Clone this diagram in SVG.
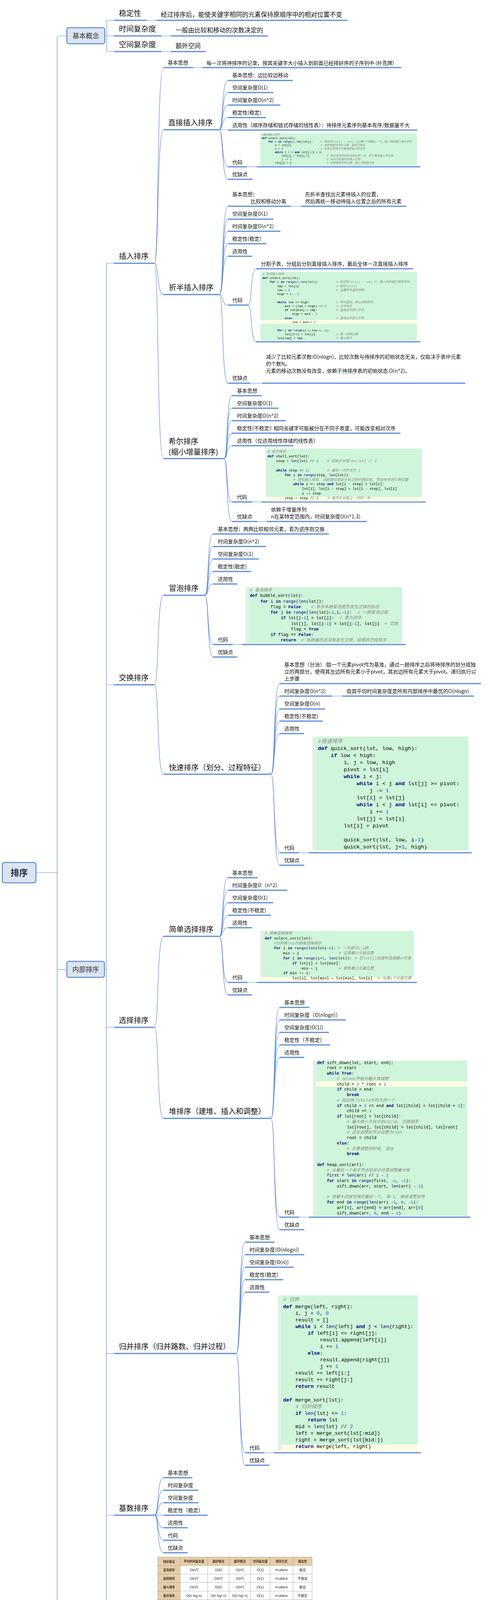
<svg xmlns="http://www.w3.org/2000/svg" width="1248" height="4541" viewBox="0 0 1248 4541">
<style>
.ul{fill:none;stroke:#5b8bd6;stroke-width:3}
.ln{fill:none;stroke:#5b8bd6;stroke-width:1.2}
.box{fill:#dbe5f1;stroke:#5b8bd6;stroke-width:2.5}
.bt{font-family:"Noto Sans CJK SC","Liberation Sans",sans-serif;font-size:17px;fill:#333;text-anchor:middle}
.rt{font-family:"Noto Sans CJK SC","Liberation Sans",sans-serif;font-size:22px;font-weight:bold;fill:#1f2d3d;text-anchor:middle}
.l1{font-family:"Noto Sans CJK SC","Liberation Sans",sans-serif;font-size:19px;fill:#111}
.vl{font-family:"Noto Sans CJK SC","Liberation Sans",sans-serif;font-size:16px;fill:#111}
.lf{font-family:"Noto Sans CJK SC","Liberation Sans",sans-serif;font-size:13px;fill:#111}
.code{font-family:"Liberation Mono","Noto Sans CJK SC",monospace;fill:#000}
.k{fill:#000080;font-weight:bold}
.b{fill:#000080}
.n{fill:#1750eb}
.c{fill:#8c8c8c;font-style:italic}
.cb{fill:#cff5da}
.hl{fill:#fcfbe3}
.gt{fill:#e4efe6}
.tg{stroke:#9a9a9a;stroke-width:0.7;fill:none}
.th{font-family:"Noto Sans CJK SC",sans-serif;font-size:7.5px;font-weight:bold;fill:#3a2e22;text-anchor:middle}
.tc{font-family:"Liberation Sans",sans-serif;font-size:9px;fill:#222;text-anchor:middle}
.tz{font-family:"Noto Sans CJK SC",sans-serif;font-size:8.5px;fill:#222;text-anchor:middle}
.nt{font-family:"Noto Sans CJK SC","Liberation Sans",sans-serif;font-size:6px;fill:#333}
</style>

<g id="connectors">
<path class="ln" d="M92 2234H146"/>
<path class="ln" d="M171 92H152Q146 92 146 98V4422Q146 4428 152 4428H171"/>
<path class="ln" d="M146 2482H171"/>
<path class="ln" d="M268 92H292M292 52H273V132H292"/>
<path class="ln" d="M267 2482H272M291.5 674H272V4291H291.5M272 1753H291.5M272 2630H291.5M272 3465H291.5M272 3879H291.5"/>
<path class="ln" d="M268 4428H291.5"/>
<path class="ln" d="M395 674C406.5 674 401 173 418 173M395 674C406.5 674 401 332 418 332M395 674C406.5 674 401 754 418 754M395 674C406.5 674 401 1174 418 1174"/>
<path class="ln" d="M395 1753C406.5 1753 401 1524 418 1524M395 1753C406.5 1753 401 1982 418 1982"/>
<path class="ln" d="M395 2630C406.5 2630 401 2397 418 2397M395 2630C406.5 2630 401 2863 418 2863"/>
<path class="ln" d="M395 3879C406.5 3879 401 3783 418 3783M395 3879C406.5 3879 401 3815 418 3815M395 3879C406.5 3879 401 3847 418 3847M395 3879H418M395 3879C406.5 3879 401 3911 418 3911M395 3879C406.5 3879 401 3943 418 3943M395 3879C406.5 3879 401 3975 418 3975"/>
<path class="ln" d="M604 3465C615.5 3465 610 3180 627 3180M604 3465C615.5 3465 610 3212 627 3212M604 3465C615.5 3465 610 3244 627 3244M604 3465C615.5 3465 610 3276 627 3276M604 3465C615.5 3465 610 3308 627 3308M604 3465C615.5 3465 610 3719 627 3719M604 3465C615.5 3465 610 3751 627 3751"/>
<path class="ln" d="M432 4428C444 4428 438 4333 456 4333M432 4428C444 4428 438 4364 456 4364M432 4428C444 4428 438 4396 456 4396M432 4428H456M432 4428C444 4428 438 4460 456 4460M432 4428C444 4428 438 4492 456 4492M432 4428C444 4428 438 4524 456 4524"/>
<path class="ln" d="M560 332C571.5 332 566 206 583 206M560 332C571.5 332 566 237 583 237M560 332C571.5 332 566 269 583 269M560 332C571.5 332 566 301 583 301M560 332H583M560 332C571.5 332 566 427 583 427M560 332C571.5 332 566 459 583 459"/>
<path class="ln" d="M561 754C572 754 566.5 528 583 528M561 754C572 754 566.5 561 583 561M561 754C572 754 566.5 592 583 592M561 754C572 754 566.5 624 583 624M561 754C572 754 566.5 656 583 656M561 754C572 754 566.5 781 583 781M561 754C572 754 566.5 981 583 981"/>
<path class="ln" d="M635 781C645 781 640 688 655 688M635 781C645 781 640 875 655 875"/>
<path class="ln" d="M573 1174C583 1174 578 1013 593 1013M573 1174C583 1174 578 1045 593 1045M573 1174C583 1174 578 1077 593 1077M573 1174C583 1174 578 1109 593 1109M573 1174C583 1174 578 1141 593 1141M573 1174C583 1174 578 1285 593 1285M573 1174C583 1174 578 1335 593 1335"/>
<path class="ln" d="M524 1524C534.5 1524 529 1367 545 1367M524 1524C534.5 1524 529 1399 545 1399M524 1524C534.5 1524 529 1431 545 1431M524 1524C534.5 1524 529 1463 545 1463M524 1524C534.5 1524 529 1495 545 1495M524 1524C534.5 1524 529 1650 545 1650M524 1524C534.5 1524 529 1682 545 1682"/>
<path class="ln" d="M693 1982C704 1982 698.5 1750 715 1750M693 1982C704 1982 698.5 1782 715 1782M693 1982C704 1982 698.5 1815 715 1815M693 1982C704 1982 698.5 1846 715 1846M693 1982C704 1982 698.5 1878 715 1878M693 1982C704 1982 698.5 2183 715 2183M693 1982C704 1982 698.5 2215 715 2215"/>
<path class="ln" d="M561 2397C572 2397 566.5 2247 583 2247M561 2397C572 2397 566.5 2279 583 2279M561 2397C572 2397 566.5 2311 583 2311M561 2397C572 2397 566.5 2343 583 2343M561 2397C572 2397 566.5 2375 583 2375M561 2397C572 2397 566.5 2515 583 2515M561 2397C572 2397 566.5 2547 583 2547"/>
<path class="ln" d="M693 2863C704 2863 698.5 2579 715 2579M693 2863C704 2863 698.5 2611 715 2611M693 2863C704 2863 698.5 2643 715 2643M693 2863C704 2863 698.5 2675 715 2675M693 2863C704 2863 698.5 2707 715 2707M693 2863C704 2863 698.5 3116 715 3116M693 2863C704 2863 698.5 3148 715 3148"/>
<path class="ln" d="M375 52H400M413 92H437M413 132H437M494 173H518M631 427H657M744 528H770M640 981H670M645 1285H669M658 1335H683M595 1650H619M849 1782H876M765 2183H790M632 2515H657M765 3116H790M676 3719H700M366 4291H391"/>
</g>

<g id="root"><rect class="box" x="6" y="2208" width="86" height="52" rx="6"/><text class="rt" x="49" y="2242">排序</text></g>

<g id="basic"><rect class="box" x="171" y="71" width="97" height="41" rx="5"/><text class="bt" x="219.5" y="98">基本概念</text></g>
<g id="basic-stable"><text class="l1" x="304" y="41">稳定性</text><path class="ul" d="M292 52H375"/></g>
<g id="basic-stable-v"><text class="vl" x="411" y="43">经过排序后，能使关键字相同的元素保持原顺序中的相对位置不变</text><path class="ul" d="M400 52H889"/></g>
<g id="basic-time"><text class="l1" x="304" y="81">时间复杂度</text><path class="ul" d="M292 92H413"/></g>
<g id="basic-time-v"><text class="vl" x="449" y="83">一般由比较和移动的次数决定的</text><path class="ul" d="M437 92H686"/></g>
<g id="basic-space"><text class="l1" x="304" y="121">空间复杂度</text><path class="ul" d="M292 132H413"/></g>
<g id="basic-space-v"><text class="vl" x="449" y="123">额外空间</text><path class="ul" d="M437 132H526"/></g>

<g id="internal"><rect class="box" x="171" y="2461" width="96" height="41" rx="5"/><text class="bt" x="219" y="2488">内部排序</text></g>
<g id="external"><rect class="box" x="171" y="4407" width="97" height="41" rx="5"/><text class="bt" x="219.5" y="4434">外部排序</text></g>

<g id="insert"><text class="l1" x="304" y="663">插入排序</text><path class="ul" d="M291.5 674H395"/></g>
<g id="insert-idea"><text class="lf" x="429" y="165">基本思想</text><path class="ul" d="M418 173H494"/></g>
<g id="insert-idea-v"><text class="lf" x="528" y="166">每一次将待排序的记录，按其关键字大小插入到前面已经排好序的子序列中  (扑克牌)</text><path class="ul" d="M518 173H1026"/></g>

<g id="direct"><text class="l1" x="430" y="321">直接插入排序</text><path class="ul" d="M418 332H560"/></g>
<g id="direct-1"><text class="lf" x="594" y="197">基本思想：边比较边移动</text><path class="ul" d="M583 206H749"/></g>
<g id="direct-2"><text class="lf" x="594" y="229">空间复杂度O(1)</text><path class="ul" d="M583 237H699"/></g>
<g id="direct-3"><text class="lf" x="594" y="261">时间复杂度O(n^2)</text><path class="ul" d="M583 269H717"/></g>
<g id="direct-4"><text class="lf" x="594" y="293">稳定性(稳定)</text><path class="ul" d="M583 301H680"/></g>
<g id="direct-5"><text class="lf" x="594" y="325">适用性（顺序存储和链式存储的线性表）：待排序元素序列基本有序/数据量不大</text><path class="ul" d="M583 333H1067"/></g>
<g id="direct-6"><text class="lf" x="594" y="420">代码</text><path class="ul" d="M583 427H631"/></g>
<g id="direct-7"><text class="lf" x="594" y="451">优缺点</text><path class="ul" d="M583 459H646"/></g>
<g id="direct-code"><path class="ul" d="M657 427H1075"/>
<svg x="666" y="341" width="400" height="83" viewBox="666 341 400 83">
<rect class="cb" x="666" y="341" width="400" height="83"/>
<g class="code" font-size="7">
<text x="669" y="346.7"><tspan class="c">#直接插入排序</tspan></text>
<text x="669" y="355.8"><tspan class="k">def</tspan> insert_sort(lst):</text>
<text x="686" y="364.9"><tspan class="k">for</tspan> i <tspan class="k">in</tspan> <tspan class="b">range</tspan>(<tspan class="n">1</tspan>,<tspan class="b">len</tspan>(lst)):<tspan class="c" x="820"># 依次将lst[1] ~ lst[-1](第2个到最后一个),插入到前面已排序序列</tspan></text>
<text x="703" y="373.9">s = lst[i]<tspan class="c" x="820"># 当前需要排序的元素，复制为哨兵</tspan></text>
<text x="703" y="383">j = i<tspan class="c" x="820"># 用来记录排序元素需要插入的位置</tspan></text>
<text x="703" y="392.1"><tspan class="k">while</tspan> j &gt; <tspan class="n">0</tspan> <tspan class="k">and</tspan> lst[j-<tspan class="n">1</tspan>] &gt; s:</text>
<text x="720" y="401.2">lst[j] = lst[j-<tspan class="n">1</tspan>]<tspan class="c" x="836"># 把已经排序好的元素后移一位，留下需要插入的位置</tspan></text>
<text x="720" y="410.2">j -= <tspan class="n">1</tspan><tspan class="c" x="836"># 从后往前查找待插入位置</tspan></text>
<text x="703" y="419.3">lst[j] = s<tspan class="c" x="836"># 把需要排序的元素，插入到指定位置</tspan></text>
</g></svg></g>

<g id="binary"><text class="l1" x="432" y="743">折半插入排序</text><path class="ul" d="M418 754H561"/></g>
<g id="binary-1"><text class="lf" x="594" y="502">基本思想：</text><text class="lf" x="641" y="520">比较和移动分离</text><path class="ul" d="M583 528H744"/></g>
<g id="binary-1v"><text class="lf" x="780" y="502">先折半查找出元素待插入的位置，</text><text class="lf" x="780" y="520">然后再统一移动待插入位置之后的所有元素</text><path class="ul" d="M770 528H1039"/></g>
<g id="binary-2"><text class="lf" x="594" y="552">空间复杂度O(1)</text><path class="ul" d="M583 561H699"/></g>
<g id="binary-3"><text class="lf" x="594" y="584">时间复杂度O(n^2)</text><path class="ul" d="M583 592H717"/></g>
<g id="binary-4"><text class="lf" x="594" y="616">稳定性(稳定)</text><path class="ul" d="M583 624H681"/></g>
<g id="binary-5"><text class="lf" x="594" y="648">适用性</text><path class="ul" d="M583 656H645"/></g>
<g id="binary-6"><text class="lf" x="594" y="773">代码</text><path class="ul" d="M583 781H635"/></g>
<g id="binary-6a"><text class="lf" x="667" y="680">分割子表，分组后分别直接插入排序，最后全体一次直接插入排序</text><path class="ul" d="M655 688H1056"/></g>
<g id="binary-code"><path class="ul" d="M655 875H1075"/>
<svg x="666" y="696" width="400" height="176" viewBox="666 696 400 176">
<rect class="cb" x="666" y="696" width="400" height="176"/>
<rect class="hl" x="666" y="819" width="400" height="10.3"/>
<g class="code" font-size="7.7">
<text x="671" y="703.7"><tspan class="c"># 折半插入排序</tspan></text>
<text x="671" y="714"><tspan class="k">def</tspan> insert_sort(lst):</text>
<text x="690" y="724.2"><tspan class="k">for</tspan> i <tspan class="k">in</tspan> <tspan class="b">range</tspan>(<tspan class="n">1</tspan>,<tspan class="b">len</tspan>(lst)):<tspan class="c" x="860"># 依次将lst[1] ~ lst[-1] 插入到前面已排序序列</tspan></text>
<text x="709" y="734.5">tmp = lst[i]<tspan class="c" x="860"># 暂存lst[i]</tspan></text>
<text x="709" y="744.8">low = <tspan class="n">0</tspan><tspan class="c" x="860"># 设置折半查找范围</tspan></text>
<text x="709" y="755">high = i - <tspan class="n">1</tspan></text>
<text x="709" y="775.6"><tspan class="k">while</tspan> low &lt;= high:<tspan class="c" x="860"># 折半查找，默认递增序列</tspan></text>
<text x="728" y="785.9">mid = (low + high) // <tspan class="n">2</tspan><tspan class="c" x="860"># 去中间点</tspan></text>
<text x="728" y="796.1"><tspan class="k">if</tspan> lst[mid] &gt; tmp:<tspan class="c" x="860"># 查找左半部分子表</tspan></text>
<text x="747" y="806.4">high = mid - <tspan class="n">1</tspan></text>
<text x="728" y="816.7"><tspan class="k">else</tspan>:<tspan class="c" x="860"># 查找右半部分子表</tspan></text>
<text x="747" y="826.9">low = mid + <tspan class="n">1</tspan></text>
<text x="709" y="847.5"><tspan class="k">for</tspan> j <tspan class="k">in</tspan> <tspan class="b">range</tspan>(i-<tspan class="n">1</tspan>,low-<tspan class="n">1</tspan>,-<tspan class="n">1</tspan>):</text>
<text x="728" y="857.7">lst[j+<tspan class="n">1</tspan>] = lst[j]<tspan class="c" x="860"># 统一后移元素</tspan></text>
<text x="709" y="868">lst[low] = tmp<tspan class="c" x="860"># 插入操作</tspan></text>
</g></svg></g>
<g id="binary-7"><text class="lf" x="594" y="972">优缺点</text><path class="ul" d="M583 981H640"/></g>
<g id="binary-7v"><text class="lf" x="680" y="918">减少了比较元素次数:O(nlogn)，比较次数与待排序的初始状态无关，仅取决于表中元素</text><text class="lf" x="680" y="936">的个数N。</text><text class="lf" x="680" y="954">元素的移动次数没有改变，依赖于待排序表的初始状态 O(n^2)。</text><path class="ul" d="M670 981H1190"/></g>

<g id="shell"><text class="l1" x="431" y="1137">希尔排序</text><text class="l1" x="431" y="1164">(缩小增量排序)</text><path class="ul" d="M418 1174H573"/></g>
<g id="shell-1"><text class="lf" x="606" y="1005">基本思想</text><path class="ul" d="M593 1013H670"/></g>
<g id="shell-2"><text class="lf" x="606" y="1037">空间复杂度O(1)</text><path class="ul" d="M593 1045H712"/></g>
<g id="shell-3"><text class="lf" x="606" y="1069">时间复杂度O(n^2)</text><path class="ul" d="M593 1077H731"/></g>
<g id="shell-4"><text class="lf" x="606" y="1101">稳定性(不稳定): 相同关键字可能被分在不同子表里，可能改变相对次序</text><path class="ul" d="M593 1109H1024"/></g>
<g id="shell-5"><text class="lf" x="606" y="1133">适用性（仅适用线性存储的线性表）</text><path class="ul" d="M593 1141H751"/></g>
<g id="shell-6"><text class="lf" x="606" y="1277">代码</text><path class="ul" d="M593 1285H645"/></g>
<g id="shell-code"><path class="ul" d="M669 1285H1088"/>
<svg x="680" y="1149" width="399" height="135" viewBox="680 1149 399 135">
<rect class="cb" x="680" y="1149" width="399" height="135"/>
<rect class="hl" x="680" y="1272" width="399" height="11.9"/>
<g class="code" font-size="9">
<text x="684" y="1159.1"><tspan class="c"># 希尔排序</tspan></text>
<text x="684" y="1171"><tspan class="k">def</tspan> shell_sort(lst):</text>
<text x="706" y="1182.9">step = <tspan class="b">len</tspan>(lst) // <tspan class="n">2</tspan><tspan class="c" x="837"># 初始步长取len(lst) // 2</tspan></text>
<text x="706" y="1206.7"><tspan class="k">while</tspan> step &gt;= <tspan class="n">1</tspan>:<tspan class="c" x="837"># 最后一次步长为 1</tspan></text>
<text x="728" y="1218.6"><tspan class="k">for</tspan> i <tspan class="k">in</tspan> <tspan class="b">range</tspan>(step, <tspan class="b">len</tspan>(lst)):</text>
<text x="750" y="1230.5"><tspan class="c"># 类似插入排序, 当前值与指定步长之前的值比较, 符合条件则交换位置</tspan></text>
<text x="750" y="1242.4"><tspan class="k">while</tspan> i &gt;= step <tspan class="k">and</tspan> lst[i - step] &gt; lst[i]:</text>
<text x="772" y="1254.3">lst[i], lst[i - step] = lst[i - step], lst[i]</text>
<text x="772" y="1266.2">i -= step</text>
<text x="728" y="1278.1">step = step // <tspan class="n">2</tspan><tspan class="c" x="837"># 每次步长取上一次的一半</tspan></text>
</g></svg></g>
<g id="shell-7"><text class="lf" x="606" y="1327">优缺点</text><path class="ul" d="M593 1335H658"/></g>
<g id="shell-7v"><text class="lf" x="693" y="1309">依赖于增量序列</text><text class="lf" x="693" y="1327">n在某特定范围内，时间复杂度O(n^1.3)</text><path class="ul" d="M683 1335H938"/></g>

<g id="swap"><text class="l1" x="304" y="1742">交换排序</text><path class="ul" d="M291.5 1753H395"/></g>
<g id="bubble"><text class="l1" x="432" y="1513">冒泡排序</text><path class="ul" d="M418 1524H524"/></g>
<g id="bubble-1"><text class="lf" x="557" y="1359">基本思想：两两比较相邻元素，若为逆序则交换</text><path class="ul" d="M545 1367H841"/></g>
<g id="bubble-2"><text class="lf" x="557" y="1391">时间复杂度O(n^2)</text><path class="ul" d="M545 1399H680"/></g>
<g id="bubble-3"><text class="lf" x="557" y="1423">空间复杂度O(1)</text><path class="ul" d="M545 1431H662"/></g>
<g id="bubble-4"><text class="lf" x="557" y="1455">稳定性(稳定)</text><path class="ul" d="M545 1463H642"/></g>
<g id="bubble-5"><text class="lf" x="557" y="1487">适用性</text><path class="ul" d="M545 1495H607"/></g>
<g id="bubble-6"><text class="lf" x="557" y="1642">代码</text><path class="ul" d="M545 1650H595"/></g>
<g id="bubble-code"><path class="ul" d="M619 1650H1038"/>
<svg x="628" y="1503" width="400" height="144" viewBox="628 1503 400 144">
<rect class="cb" x="628" y="1503" width="400" height="144"/>
<rect class="gt" x="628" y="1503" width="8" height="144"/>
<g class="code" font-size="10.8">
<text x="639" y="1514.1"><tspan class="c"># 冒泡排序</tspan></text>
<text x="639" y="1528.4"><tspan class="k">def</tspan> bubble_sort(lst):</text>
<text x="666" y="1542.6"><tspan class="k">for</tspan> i <tspan class="k">in</tspan> <tspan class="b">range</tspan>(<tspan class="b">len</tspan>(lst)):</text>
<text x="692" y="1556.9">flag = <tspan class="k">False</tspan><tspan class="c" x="795"># 表示本趟冒泡是否发生交换的标志</tspan></text>
<text x="692" y="1571.1"><tspan class="k">for</tspan> j <tspan class="k">in</tspan> <tspan class="b">range</tspan>(<tspan class="b">len</tspan>(lst)-<tspan class="n">1</tspan>,i,-<tspan class="n">1</tspan>):<tspan class="c" x="914"># 一趟冒泡过程</tspan></text>
<text x="718" y="1585.4"><tspan class="k">if</tspan> lst[j-<tspan class="n">1</tspan>] &gt; lst[j]:<tspan class="c" x="868"># 若为逆序</tspan></text>
<text x="744" y="1599.6">lst[j], lst[j-<tspan class="n">1</tspan>] = lst[j-<tspan class="n">1</tspan>], lst[j]<tspan class="c" x="983"># 交换</tspan></text>
<text x="744" y="1613.9">flag = <tspan class="k">True</tspan></text>
<text x="692" y="1628.1"><tspan class="k">if</tspan> flag == <tspan class="k">False</tspan>:</text>
<text x="718" y="1642.4"><tspan class="k">return</tspan><tspan class="c" x="770"># 本趟遍历后没有发生交换，说明表已经有序</tspan></text>
</g></svg></g>
<g id="bubble-7"><text class="lf" x="557" y="1674">优缺点</text><path class="ul" d="M545 1682H607"/></g>

<g id="quick"><text class="l1" x="432" y="1972">快速排序（划分、过程特征）</text><path class="ul" d="M418 1982H693"/></g>
<g id="quick-1"><text class="lf" x="727" y="1706">基本思想（分治）:取一个元素pivot作为基准，通过一趟排序之后将待排序的划分成独</text><text class="lf" x="727" y="1724">立的两部分，使得其左边所有元素小于pivot，其右边所有元素大于pivot。递归执行以</text><text class="lf" x="727" y="1742">上步骤</text><path class="ul" d="M715 1750H1230"/></g>
<g id="quick-2"><text class="lf" x="727" y="1774">时间复杂度O(n^2)</text><path class="ul" d="M715 1782H849"/></g>
<g id="quick-2v"><text class="lf" x="886" y="1774">但其平均时间复杂度是所有内部排序中最优的O(nlogn)</text><path class="ul" d="M876 1782H1212"/></g>
<g id="quick-3"><text class="lf" x="727" y="1806">空间复杂度O(n)</text><path class="ul" d="M715 1815H831"/></g>
<g id="quick-4"><text class="lf" x="727" y="1838">稳定性(不稳定)</text><path class="ul" d="M715 1846H825"/></g>
<g id="quick-5"><text class="lf" x="727" y="1870">适用性</text><path class="ul" d="M715 1878H778"/></g>
<g id="quick-6"><text class="lf" x="727" y="2175">代码</text><path class="ul" d="M715 2183H765"/></g>
<g id="quick-code"><path class="ul" d="M790 2183H1206"/>
<svg x="799" y="1886" width="399" height="291" viewBox="799 1886 399 291">
<rect class="cb" x="799" y="1886" width="399" height="291"/>
<rect class="gt" x="799" y="1886" width="9" height="291"/>
<g class="code" font-size="13.7">
<text x="813" y="1901.7"><tspan class="c">#快速排序</tspan></text>
<text x="813" y="1919.7"><tspan class="k">def</tspan> quick_sort(lst, low, high):</text>
<text x="846" y="1937.7"><tspan class="k">if</tspan> low &lt; high:</text>
<text x="879" y="1955.7">i, j = low, high</text>
<text x="879" y="1973.7">pivot = lst[i]</text>
<text x="879" y="1991.7"><tspan class="k">while</tspan> i &lt; j:</text>
<text x="912" y="2009.7"><tspan class="k">while</tspan> i &lt; j <tspan class="k">and</tspan> lst[j] &gt;= pivot:</text>
<text x="945" y="2027.7">j -= <tspan class="n">1</tspan></text>
<text x="912" y="2045.7">lst[i] = lst[j]</text>
<text x="912" y="2063.7"><tspan class="k">while</tspan> i &lt; j <tspan class="k">and</tspan> lst[i] &lt;= pivot:</text>
<text x="945" y="2081.7">i += <tspan class="n">1</tspan></text>
<text x="912" y="2099.7">lst[j] = lst[i]</text>
<text x="879" y="2117.7">lst[i] = pivot</text>
<text x="879" y="2153.7">quick_sort(lst, low, i-<tspan class="n">1</tspan>)</text>
<text x="879" y="2171.7">quick_sort(lst, j+<tspan class="n">1</tspan>, high)</text>
</g></svg></g>
<g id="quick-7"><text class="lf" x="727" y="2207">优缺点</text><path class="ul" d="M715 2215H778"/></g>

<g id="select"><text class="l1" x="304" y="2619">选择排序</text><path class="ul" d="M291.5 2630H395"/></g>
<g id="simple"><text class="l1" x="432" y="2386">简单选择排序</text><path class="ul" d="M418 2397H561"/></g>
<g id="simple-1"><text class="lf" x="594" y="2239">基本思想</text><path class="ul" d="M583 2247H659"/></g>
<g id="simple-2"><text class="lf" x="594" y="2271">时间复杂度O（n^2）</text><path class="ul" d="M583 2279H735"/></g>
<g id="simple-3"><text class="lf" x="594" y="2303">空间复杂度O(1)</text><path class="ul" d="M583 2311H699"/></g>
<g id="simple-4"><text class="lf" x="594" y="2335">稳定性(不稳定)</text><path class="ul" d="M583 2343H693"/></g>
<g id="simple-5"><text class="lf" x="594" y="2367">适用性</text><path class="ul" d="M583 2375H645"/></g>
<g id="simple-6"><text class="lf" x="594" y="2507">代码</text><path class="ul" d="M583 2515H632"/></g>
<g id="simple-code"><path class="ul" d="M657 2515H1066"/>
<svg x="666" y="2383" width="392" height="129" viewBox="666 2383 392 129">
<rect class="cb" x="666" y="2383" width="392" height="129"/>
<rect class="gt" x="666" y="2383" width="7" height="129"/>
<rect class="hl" x="666" y="2501" width="392" height="11"/>
<g class="code" font-size="9.75">
<text x="677" y="2392"><tspan class="c"># 简单选择排序</tspan></text>
<text x="677" y="2404.8"><tspan class="k">def</tspan> select_sort(lst):</text>
<text x="700.5" y="2417.6"><tspan class="c">#对列表lst作简单选择排序</tspan></text>
<text x="700.5" y="2430.4"><tspan class="k">for</tspan> i <tspan class="k">in</tspan> <tspan class="b">range</tspan>(<tspan class="b">len</tspan>(lst)-<tspan class="n">1</tspan>):<tspan class="c" x="864"># 一共进行n-1趟</tspan></text>
<text x="724" y="2443.2">min = i<tspan class="c" x="866"># 记录最小元素位置</tspan></text>
<text x="724" y="2456"><tspan class="k">for</tspan> j <tspan class="k">in</tspan> <tspan class="b">range</tspan>(i+<tspan class="n">1</tspan>, <tspan class="b">len</tspan>(lst)):<tspan class="c" x="907"># 在lst[i]后面中选择最小元素</tspan></text>
<text x="747.5" y="2468.8"><tspan class="k">if</tspan> lst[j] &lt; lst[min]:</text>
<text x="771" y="2481.6">min = j<tspan class="c" x="866"># 更新最小元素位置</tspan></text>
<text x="724" y="2494.4"><tspan class="k">if</tspan> min != i:</text>
<text x="747.5" y="2507.2">lst[i], lst[min] = lst[min], lst[i]<tspan class="c" x="966"># 与第i个元素交换</tspan></text>
</g></svg></g>
<g id="simple-7"><text class="lf" x="594" y="2539">优缺点</text><path class="ul" d="M583 2547H645"/></g>

<g id="heap"><text class="l1" x="432" y="2852">堆排序（建堆、插入和调整）</text><path class="ul" d="M418 2863H693"/></g>
<g id="heap-1"><text class="lf" x="727" y="2571">基本思想</text><path class="ul" d="M715 2579H791"/></g>
<g id="heap-2"><text class="lf" x="727" y="2603">时间复杂度（O(nlogn)）</text><path class="ul" d="M715 2611H884"/></g>
<g id="heap-3"><text class="lf" x="727" y="2635">空间复杂度(O(1))</text><path class="ul" d="M715 2643H841"/></g>
<g id="heap-4"><text class="lf" x="727" y="2667">稳定性（不稳定）</text><path class="ul" d="M715 2675H844"/></g>
<g id="heap-5"><text class="lf" x="727" y="2699">适用性</text><path class="ul" d="M715 2707H778"/></g>
<g id="heap-6"><text class="lf" x="727" y="3108">代码</text><path class="ul" d="M715 3116H765"/></g>
<g id="heap-code"><path class="ul" d="M790 3116H1203"/>
<svg x="800" y="2715" width="395" height="398" viewBox="800 2715 395 398">
<rect class="cb" x="800" y="2715" width="395" height="398"/>
<rect class="gt" x="800" y="2715" width="8" height="398"/>
<rect class="hl" x="808" y="2768" width="387" height="13.75"/>
<g class="code" font-size="10.5">
<text x="811" y="2723.6"><tspan class="k">def</tspan> sift_down(lst, start, end):</text>
<text x="836" y="2737.4">root = start</text>
<text x="836" y="2751.1"><tspan class="k">while</tspan> <tspan class="k">True</tspan>:</text>
<text x="861.5" y="2764.9"><tspan class="c"># 从root开始对最大堆调整</tspan></text>
<text x="861.5" y="2778.6">child = <tspan class="n">2</tspan> * root + <tspan class="n">1</tspan></text>
<text x="861.5" y="2792.4"><tspan class="k">if</tspan> child &gt; end:</text>
<text x="887" y="2806.1"><tspan class="k">break</tspan></text>
<text x="861.5" y="2819.9"><tspan class="c"># 找出两个child中较大的一个</tspan></text>
<text x="861.5" y="2833.6"><tspan class="k">if</tspan> child + <tspan class="n">1</tspan> &lt;= end <tspan class="k">and</tspan> lst[child] &lt; lst[child + <tspan class="n">1</tspan>]:</text>
<text x="887" y="2847.4">child += <tspan class="n">1</tspan></text>
<text x="861.5" y="2861.1"><tspan class="k">if</tspan> lst[root] &lt; lst[child]:</text>
<text x="887" y="2874.9"><tspan class="c"># 最大堆小于较大的child, 交换顺序</tspan></text>
<text x="887" y="2888.6">lst[root], lst[child] = lst[child], lst[root]</text>
<text x="887" y="2902.4"><tspan class="c"># 正在调整的节点设置为root</tspan></text>
<text x="887" y="2916.1">root = child</text>
<text x="861.5" y="2929.9"><tspan class="k">else</tspan>:</text>
<text x="887" y="2943.6"><tspan class="c"># 无需调整的时候, 退出</tspan></text>
<text x="887" y="2957.4"><tspan class="k">break</tspan></text>
<text x="811" y="2984.9"><tspan class="k">def</tspan> heap_sort(arr):</text>
<text x="836" y="2998.6"><tspan class="c"># 从最后一个有子节点的孩子还是调整最大堆</tspan></text>
<text x="836" y="3012.4">first = <tspan class="b">len</tspan>(arr) // <tspan class="n">2</tspan> - <tspan class="n">1</tspan></text>
<text x="836" y="3026.1"><tspan class="k">for</tspan> start <tspan class="k">in</tspan> <tspan class="b">range</tspan>(first, -<tspan class="n">1</tspan>, -<tspan class="n">1</tspan>):</text>
<text x="861.5" y="3039.9">sift_down(arr, start, <tspan class="b">len</tspan>(arr) - <tspan class="n">1</tspan>)</text>
<text x="836" y="3067.4"><tspan class="c"># 将最大的放到堆的最后一个, 堆-1, 继续调整排序</tspan></text>
<text x="836" y="3081.1"><tspan class="k">for</tspan> end <tspan class="k">in</tspan> <tspan class="b">range</tspan>(<tspan class="b">len</tspan>(arr) -<tspan class="n">1</tspan>, <tspan class="n">0</tspan>, -<tspan class="n">1</tspan>):</text>
<text x="861.5" y="3094.9">arr[<tspan class="n">0</tspan>], arr[end] = arr[end], arr[<tspan class="n">0</tspan>]</text>
<text x="861.5" y="3108.6">sift_down(arr, <tspan class="n">0</tspan>, end - <tspan class="n">1</tspan>)</text>
</g></svg></g>
<g id="heap-7"><text class="lf" x="727" y="3140">优缺点</text><path class="ul" d="M715 3148H778"/></g>

<g id="merge"><text class="l1" x="304" y="3454">归并排序（归并路数、归并过程）</text><path class="ul" d="M291.5 3465H604"/></g>
<g id="merge-1"><text class="lf" x="638" y="3172">基本思想</text><path class="ul" d="M627 3180H702"/></g>
<g id="merge-2"><text class="lf" x="638" y="3204">时间复杂度(O(nlogn))</text><path class="ul" d="M627 3212H778"/></g>
<g id="merge-3"><text class="lf" x="638" y="3236">空间复杂度(O(n))</text><path class="ul" d="M627 3244H751"/></g>
<g id="merge-4"><text class="lf" x="638" y="3268">稳定性(稳定)</text><path class="ul" d="M627 3276H724"/></g>
<g id="merge-5"><text class="lf" x="638" y="3300">适用性</text><path class="ul" d="M627 3308H689"/></g>
<g id="merge-6"><text class="lf" x="638" y="3711">代码</text><path class="ul" d="M627 3719H676"/></g>
<g id="merge-code"><path class="ul" d="M700 3719H1076"/>
<svg x="711" y="3316" width="357" height="398" viewBox="711 3316 357 398">
<rect class="cb" x="711" y="3316" width="357" height="398"/>
<rect class="gt" x="711" y="3316" width="8" height="398"/>
<rect class="hl" x="719" y="3698" width="349" height="16"/>
<g class="code" font-size="12.9">
<text x="724" y="3331.4"><tspan class="c"># 归并</tspan></text>
<text x="724" y="3348.5"><tspan class="k">def</tspan> merge(left, right):</text>
<text x="755.5" y="3365.5">i, j = <tspan class="n">0</tspan>, <tspan class="n">0</tspan></text>
<text x="755.5" y="3382.6">result = []</text>
<text x="755.5" y="3399.7"><tspan class="k">while</tspan> i &lt; <tspan class="b">len</tspan>(left) <tspan class="k">and</tspan> j &lt; <tspan class="b">len</tspan>(right):</text>
<text x="787" y="3416.8"><tspan class="k">if</tspan> left[i] &lt;= right[j]:</text>
<text x="818.5" y="3433.8">result.append(left[i])</text>
<text x="818.5" y="3450.9">i += <tspan class="n">1</tspan></text>
<text x="787" y="3468"><tspan class="k">else</tspan>:</text>
<text x="818.5" y="3485">result.append(right[j])</text>
<text x="818.5" y="3502.1">j += <tspan class="n">1</tspan></text>
<text x="755.5" y="3519.2">result += left[i:]</text>
<text x="755.5" y="3536.2">result += right[j:]</text>
<text x="755.5" y="3553.3"><tspan class="k">return</tspan> result</text>
<text x="724" y="3587.5"><tspan class="k">def</tspan> merge_sort(lst):</text>
<text x="755.5" y="3604.5"><tspan class="c"># 归并排序</tspan></text>
<text x="755.5" y="3621.6"><tspan class="k">if</tspan> <tspan class="b">len</tspan>(lst) &lt;= <tspan class="n">1</tspan>:</text>
<text x="787" y="3638.7"><tspan class="k">return</tspan> lst</text>
<text x="755.5" y="3655.7">mid = <tspan class="b">len</tspan>(lst) // <tspan class="n">2</tspan></text>
<text x="755.5" y="3672.8">left = merge_sort(lst[:mid])</text>
<text x="755.5" y="3689.9">right = merge_sort(lst[mid:])</text>
<text x="755.5" y="3706.9"><tspan class="k">return</tspan> merge(left, right)</text>
</g></svg></g>
<g id="merge-7"><text class="lf" x="638" y="3743">优缺点</text><path class="ul" d="M627 3751H689"/></g>

<g id="radix"><text class="l1" x="304" y="3868">基数排序</text><path class="ul" d="M291.5 3879H395"/></g>
<g id="radix-1"><text class="lf" x="429" y="3775">基本思想</text><path class="ul" d="M418 3783H492"/></g>
<g id="radix-2"><text class="lf" x="429" y="3807">时间复杂度</text><path class="ul" d="M418 3815H507"/></g>
<g id="radix-3"><text class="lf" x="429" y="3839">空间复杂度</text><path class="ul" d="M418 3847H507"/></g>
<g id="radix-4"><text class="lf" x="429" y="3871">稳定性（稳定）</text><path class="ul" d="M418 3879H531"/></g>
<g id="radix-5"><text class="lf" x="429" y="3903">适用性</text><path class="ul" d="M418 3911H480"/></g>
<g id="radix-6"><text class="lf" x="429" y="3935">代码</text><path class="ul" d="M418 3943H467"/></g>
<g id="radix-7"><text class="lf" x="429" y="3967">优缺点</text><path class="ul" d="M418 3975H480"/></g>

<g id="summary"><text class="lf" x="302" y="4283" font-size="14">算法汇总</text><path class="ul" d="M291.5 4291H366"/></g>
<g id="summary-table"><path class="ul" d="M391 4291H805"/>
<rect x="403.5" y="3986" width="394.5" height="239.8" fill="#fff"/>
<rect x="403.5" y="3986" width="394.5" height="21.8" fill="#e6cda6"/>
<rect x="403.5" y="3986" width="57.5" height="239.8" fill="#e6cda6"/>
<path class="tg" d="M403.5 3986H798V4225.8H403.5ZM461 3986V4225.8M531 3986V4225.8M586 3986V4225.8M640.5 3986V4225.8M690.5 3986V4225.8M749.6 3986V4225.8M403.5 4007.8H798M403.5 4029.6H798M403.5 4051.4H798M403.5 4073.2H798M403.5 4095H798M403.5 4116.8H798M403.5 4138.6H798M403.5 4160.4H798M403.5 4182.2H798M403.5 4204H798"/>
<text class="th" x="432.3" y="4001" font-size="10.5">排序算法</text>
<text class="th" x="496" y="4000">平均时间复杂度</text>
<text class="th" x="558.5" y="4000">最好情况</text>
<text class="th" x="613.3" y="4000">最坏情况</text>
<text class="th" x="665.5" y="4000">空间复杂度</text>
<text class="th" x="720" y="4000">排序方式</text>
<text class="th" x="773.8" y="4000">稳定性</text>
<g class="th" font-size="8.5">
<text x="432.3" y="4022">冒泡排序</text><text x="432.3" y="4044">选择排序</text><text x="432.3" y="4066">插入排序</text><text x="432.3" y="4088">希尔排序</text><text x="432.3" y="4109">归并排序</text><text x="432.3" y="4131">快速排序</text><text x="432.3" y="4153">堆排序</text><text x="432.3" y="4175">计数排序</text><text x="432.3" y="4197">桶排序</text><text x="432.3" y="4219">基数排序</text>
</g>
<g class="tc">
<text x="496" y="4022">O(n²)</text><text x="558.5" y="4022">O(n)</text><text x="613.3" y="4022">O(n²)</text><text x="665.5" y="4022">O(1)</text><text x="720" y="4022">In-place</text>
<text x="496" y="4044">O(n²)</text><text x="558.5" y="4044">O(n²)</text><text x="613.3" y="4044">O(n²)</text><text x="665.5" y="4044">O(1)</text><text x="720" y="4044">In-place</text>
<text x="496" y="4066">O(n²)</text><text x="558.5" y="4066">O(n)</text><text x="613.3" y="4066">O(n²)</text><text x="665.5" y="4066">O(1)</text><text x="720" y="4066">In-place</text>
<text x="496" y="4088">O(n log n)</text><text x="558.5" y="4088" font-size="8.3">O(n log² n)</text><text x="613.3" y="4088" font-size="8.3">O(n log² n)</text><text x="665.5" y="4088">O(1)</text><text x="720" y="4088">In-place</text>
<text x="496" y="4109">O(n log n)</text><text x="558.5" y="4109">O(n log n)</text><text x="613.3" y="4109">O(n log n)</text><text x="665.5" y="4109">O(n)</text><text x="720" y="4109">Out-place</text>
<text x="496" y="4131">O(n log n)</text><text x="558.5" y="4131">O(n log n)</text><text x="613.3" y="4131">O(n²)</text><text x="665.5" y="4131">O(log n)</text><text x="720" y="4131">In-place</text>
<text x="496" y="4153">O(n log n)</text><text x="558.5" y="4153">O(n log n)</text><text x="613.3" y="4153">O(n log n)</text><text x="665.5" y="4153">O(1)</text><text x="720" y="4153">In-place</text>
<text x="496" y="4175">O(n + k)</text><text x="558.5" y="4175">O(n + k)</text><text x="613.3" y="4175">O(n + k)</text><text x="665.5" y="4175">O(k)</text><text x="720" y="4175">Out-place</text>
<text x="496" y="4197">O(n + k)</text><text x="558.5" y="4197">O(n + k)</text><text x="613.3" y="4197">O(n²)</text><text x="665.5" y="4197">O(n + k)</text><text x="720" y="4197">Out-place</text>
<text x="496" y="4219">O(n × k)</text><text x="558.5" y="4219">O(n × k)</text><text x="613.3" y="4219">O(n × k)</text><text x="665.5" y="4219">O(n + k)</text><text x="720" y="4219">Out-place</text>
</g>
<g class="tz">
<text x="773.8" y="4022">稳定</text><text x="773.8" y="4044">不稳定</text><text x="773.8" y="4066">稳定</text><text x="773.8" y="4088">不稳定</text><text x="773.8" y="4109">稳定</text><text x="773.8" y="4131">不稳定</text><text x="773.8" y="4153">不稳定</text><text x="773.8" y="4175">稳定</text><text x="773.8" y="4197">稳定</text><text x="773.8" y="4219">稳定</text>
</g>
<text class="nt" x="402" y="4241" font-weight="bold">图片名词解释：</text>
<g class="nt"><text x="415" y="4255">•</text><text x="426" y="4255">n: 数据规模</text><text x="415" y="4265.5">•</text><text x="426" y="4265.5">k: “桶”的个数</text><text x="415" y="4276">•</text><text x="426" y="4276">In-place: 占用常数内存，不占用额外内存</text><text x="415" y="4286">•</text><text x="426" y="4286">Out-place: 占用额外内存</text></g>
</g>

<g id="multiway"><text class="l1" x="305" y="4417">多路归并排序</text><path class="ul" d="M291.5 4428H432"/></g>
<g id="multiway-1"><text class="lf" x="467" y="4325">基本思想</text><path class="ul" d="M456 4333H531"/></g>
<g id="multiway-2"><text class="lf" x="467" y="4356">时间复杂度</text><path class="ul" d="M456 4364H545"/></g>
<g id="multiway-3"><text class="lf" x="467" y="4388">空间复杂度</text><path class="ul" d="M456 4396H545"/></g>
<g id="multiway-4"><text class="lf" x="467" y="4420">稳定性</text><path class="ul" d="M456 4428H519"/></g>
<g id="multiway-5"><text class="lf" x="467" y="4452">适用性</text><path class="ul" d="M456 4460H519"/></g>
<g id="multiway-6"><text class="lf" x="467" y="4484">代码</text><path class="ul" d="M456 4492H505"/></g>
<g id="multiway-7"><text class="lf" x="467" y="4516">优缺点</text><path class="ul" d="M456 4524H519"/></g>
</svg>
